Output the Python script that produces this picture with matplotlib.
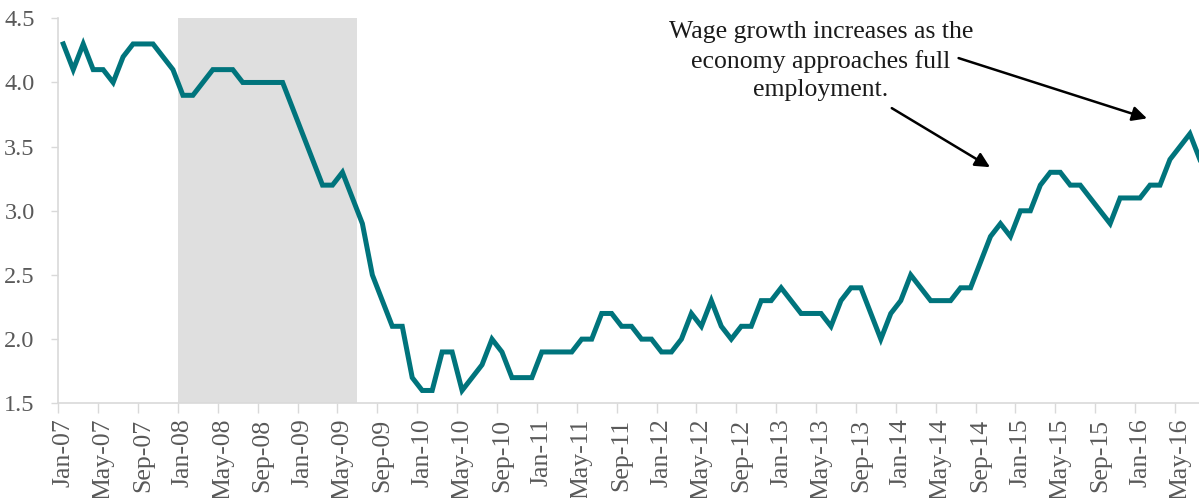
import numpy as np
import pandas as pd
import matplotlib
matplotlib.use('Agg')
import matplotlib.pyplot as plt
from matplotlib.ticker import FixedLocator, NullFormatter

# ----------------------------------------------------------------
# Wage growth, year-over-year %, monthly from Jan-07
# ----------------------------------------------------------------
start_month = '2007-01'
wage_growth = [
    4.3, 4.1, 4.3, 4.1, 4.1, 4.0, 4.2, 4.3, 4.3, 4.3, 4.2, 4.1,   # 2007
    3.9, 3.9, 4.0, 4.1, 4.1, 4.1, 4.0, 4.0, 4.0, 4.0, 4.0, 3.8,   # 2008
    3.6, 3.4, 3.2, 3.2, 3.3, 3.1, 2.9, 2.5, 2.3, 2.1, 2.1, 1.7,   # 2009
    1.6, 1.6, 1.9, 1.9, 1.6, 1.7, 1.8, 2.0, 1.9, 1.7, 1.7, 1.7,   # 2010
    1.9, 1.9, 1.9, 1.9, 2.0, 2.0, 2.2, 2.2, 2.1, 2.1, 2.0, 2.0,   # 2011
    1.9, 1.9, 2.0, 2.2, 2.1, 2.3, 2.1, 2.0, 2.1, 2.1, 2.3, 2.3,   # 2012
    2.4, 2.3, 2.2, 2.2, 2.2, 2.1, 2.3, 2.4, 2.4, 2.2, 2.0, 2.2,   # 2013
    2.3, 2.5, 2.4, 2.3, 2.3, 2.3, 2.4, 2.4, 2.6, 2.8, 2.9, 2.8,   # 2014
    3.0, 3.0, 3.2, 3.3, 3.3, 3.2, 3.2, 3.1, 3.0, 2.9, 3.1, 3.1,   # 2015
    3.1, 3.2, 3.2, 3.4, 3.5, 3.6, 3.4,                            # 2016
]

# Recession shading (first and last month)
recession = ('2008-01', '2009-06')

annotation_text = 'Wage growth increases as the\neconomy approaches full\nemployment.'

months = pd.date_range(start_month, periods=len(wage_growth), freq='MS')
x = np.arange(len(months))
month_pos = {d.strftime('%Y-%m'): i for i, d in enumerate(months)}

# ----------------------------------------------------------------
# Figure
# ----------------------------------------------------------------
plt.rcParams['font.family'] = ['Liberation Serif', 'DejaVu Serif']

W, H = 1199, 498
fig = plt.figure(figsize=(W / 100, H / 100), dpi=100)
left_px, top_px, bottom_px = 58.3, 18.3, 403.3
ax = fig.add_axes([left_px / W, 1 - bottom_px / H,
                   1 - left_px / W, (bottom_px - top_px) / H])

teal = '#00747c'
grey_txt = '#595959'
spine_col = '#d9d9d9'

ax.axvspan(month_pos[recession[0]] - 0.5, month_pos[recession[1]] + 0.5,
           color='#dfdfdf', lw=0, zorder=0)
ax.plot(x, wage_growth, color=teal, lw=3.6, solid_joinstyle='miter',
        zorder=3)

ax.set_xlim(-0.5, -0.5 + (W - left_px) / 9.97)
ax.set_ylim(1.5, 4.5)

# y axis
ax.set_yticks(np.arange(1.5, 4.51, 0.5))
ax.set_yticklabels([f'{v:.1f}' for v in np.arange(1.5, 4.51, 0.5)])
ax.tick_params(axis='y', colors=spine_col, labelcolor=grey_txt,
               labelsize=17.5, length=5, width=1, pad=12)

# x axis: labels every 4 months, tick marks on category boundaries
lab_idx = x[::4]
ax.set_xticks(lab_idx)
ax.set_xticklabels([months[i].strftime('%b-%y') for i in lab_idx],
                   rotation=90)
ax.tick_params(axis='x', which='major', length=0, labelcolor=grey_txt,
               labelsize=18.5, pad=11)
ax.xaxis.set_minor_locator(FixedLocator(lab_idx - 0.5))
ax.xaxis.set_minor_formatter(NullFormatter())
ax.tick_params(axis='x', which='minor', length=7, width=1, color=spine_col)

for side in ['top', 'right']:
    ax.spines[side].set_visible(False)
for side in ['left', 'bottom']:
    ax.spines[side].set_color(spine_col)
    ax.spines[side].set_linewidth(1.2)

# ----------------------------------------------------------------
# Annotation
# ----------------------------------------------------------------
fig.text(821 / W, 1 - 61 / H, annotation_text, ha='center', va='center',
         fontsize=18.5, color='#1a1a1a', linespacing=1.4)

arrow_kw = dict(arrowstyle='-|>', color='black', lw=1.8,
                mutation_scale=22, shrinkA=0, shrinkB=0)
ax.annotate('', xy=(92.95, 3.34), xytext=(83.1, 3.80),
            arrowprops=arrow_kw, annotation_clip=False)
ax.annotate('', xy=(108.7, 3.72), xytext=(89.8, 4.19),
            arrowprops=arrow_kw, annotation_clip=False)

fig.savefig('out.png', dpi=100, facecolor='white')
